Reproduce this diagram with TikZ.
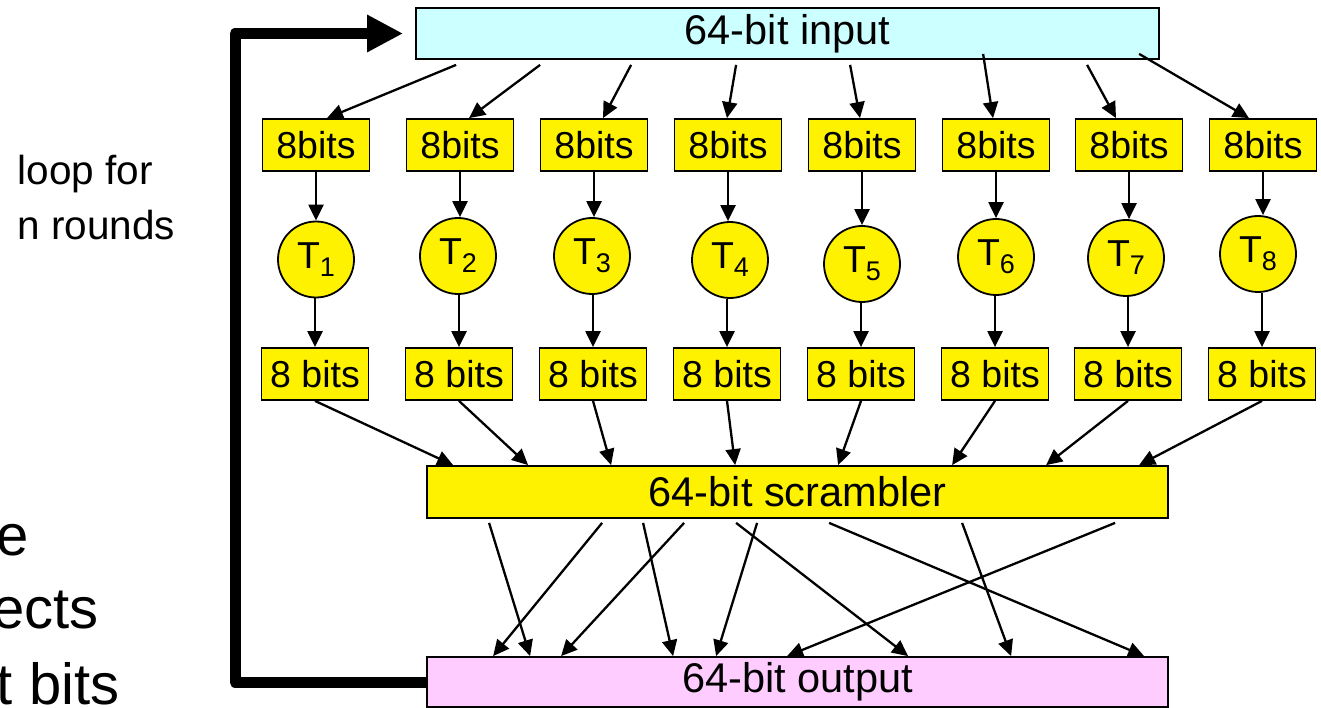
\documentclass[tikz,border=0pt]{standalone}
\usepackage{fontspec}
\setmainfont{Liberation Sans}
\usetikzlibrary{arrows.meta}
\definecolor{inblue}{HTML}{CCFFFF}
\definecolor{outpink}{HTML}{FFCCFF}
\tikzset{
  bitbox/.style={draw, line width=1.8pt, fill=yellow, inner sep=0pt, minimum width=107pt, minimum height=52pt, font=\fontsize{37.5}{44}\selectfont},
  widebox/.style={draw, line width=1.8pt, inner sep=0pt, minimum width=741pt, minimum height=51pt, font=\fontsize{41.5}{49}\selectfont},
  tbox/.style={draw, circle, line width=1.8pt, fill=yellow, inner sep=0pt, minimum size=76pt, font=\fontsize{37.5}{44}\selectfont},
  arr/.style={line width=2.3pt, -{Triangle[length=16pt,width=15pt]}},
}
\newcommand{\tsub}[1]{T\raisebox{-8pt}{\fontsize{27}{30}\selectfont #1}}
\begin{document}
\begin{tikzpicture}[x=1pt,y=-1pt]
\useasboundingbox (0,0) rectangle (1321,708);

% left side text
\node[anchor=base east, font=\fontsize{58}{70}\selectfont] (txta) at (32,555) {e};
\node[anchor=base east, font=\fontsize{58}{70}\selectfont] (txtb) at (102,628) {ects};
\node[anchor=base east, font=\fontsize{58}{70}\selectfont] (txtc) at (123,704) {t bits};
\node[anchor=base west, font=\fontsize{40.5}{47}\selectfont] (loopa) at (14,185) {loop for};
\node[anchor=base west, font=\fontsize{40.5}{47}\selectfont] (loopb) at (14,240) {n rounds};

% the three wide boxes
\node[widebox, fill=inblue, minimum width=743pt] (inp) at (787.5,33.5) {64-bit input};
\node[widebox, fill=yellow, minimum height=52pt] (scr) at (797.5,492) {64-bit scrambler};
\node[widebox, fill=outpink, minimum height=50pt] (out) at (797.5,682) {64-bit output};

% 8bits in
\node[bitbox] (b1) at (316,145) {8bits};
\node[bitbox] (b2) at (460,145) {8bits};
\node[bitbox] (b3) at (594,145) {8bits};
\node[bitbox] (b4) at (728,145) {8bits};
\node[bitbox] (b5) at (862,145) {8bits};
\node[bitbox] (b6) at (996,145) {8bits};
\node[bitbox] (b7) at (1129,145) {8bits};
\node[bitbox] (b8) at (1263,145) {8bits};

% tables
\node[tbox] (t1) at (316,259.5) {\tsub{1}};
\node[tbox] (t2) at (458,256) {\tsub{2}};
\node[tbox] (t3) at (592,256) {\tsub{3}};
\node[tbox] (t4) at (730,260) {\tsub{4}};
\node[tbox] (t5) at (862,264) {\tsub{5}};
\node[tbox] (t6) at (996,257) {\tsub{6}};
\node[tbox] (t7) at (1126,258) {\tsub{7}};
\node[tbox] (t8) at (1258,254) {\tsub{8}};

% 8 bits out
\node[bitbox] (c1) at (315,374) {8 bits};
\node[bitbox] (c2) at (459,374) {8 bits};
\node[bitbox] (c3) at (593,374) {8 bits};
\node[bitbox] (c4) at (727,374) {8 bits};
\node[bitbox] (c5) at (861,374) {8 bits};
\node[bitbox] (c6) at (995,374) {8 bits};
\node[bitbox] (c7) at (1128,374) {8 bits};
\node[bitbox] (c8) at (1262,374) {8 bits};

% loop back
\coordinate (corner) at (235,682);
\draw[line width=11pt, line join=round, -{Triangle[length=36pt,width=35pt]}] (out.west) -- (corner) |- ([xshift=-12pt]inp.west);

% input -> 8bits
\draw[arr] ([xshift=41pt,yshift=-5pt]inp.south west) -- ([xshift=11pt]b1.north);
\draw[arr] ([xshift=125pt,yshift=-5pt]inp.south west) -- ([xshift=9pt]b2.north);
\draw[arr] ([xshift=216pt,yshift=-5pt]inp.south west) -- ([xshift=9pt]b3.north);
\draw[arr] ([xshift=321pt,yshift=-5pt]inp.south west) -- ([xshift=-1pt]b4.north);
\draw[arr] ([xshift=435pt,yshift=-5pt]inp.south west) -- ([xshift=-2pt]b5.north);
\draw[arr] ([xshift=568pt,yshift=6pt]inp.south west) -- ([xshift=-3pt]b6.north);
\draw[arr] ([xshift=672pt,yshift=-5pt]inp.south west) -- ([xshift=-13pt]b7.north);
\draw[arr] ([xshift=724pt,yshift=6pt]inp.south west) -- ([xshift=-14pt]b8.north);

% 8bits -> T
\draw[arr] (b1.south) -- (b1.south |- t1.north);
\draw[arr] (b2.south) -- (b2.south |- t2.north);
\draw[arr] (b3.south) -- (b3.south |- t3.north);
\draw[arr] (b4.south) -- (b4.south |- t4.north);
\draw[arr] (b5.south) -- (b5.south |- t5.north);
\draw[arr] (b6.south) -- (b6.south |- t6.north);
\draw[arr] (b7.south) -- (b7.south |- t7.north);
\draw[arr] (b8.south) -- (b8.south |- t8.north);

% T -> 8 bits
\draw[arr] (c1.north |- t1.south) -- (c1.north);
\draw[arr] (c2.north |- t2.south) -- (c2.north);
\draw[arr] (c3.north |- t3.south) -- (c3.north);
\draw[arr] (c4.north |- t4.south) -- (c4.north);
\draw[arr] (c5.north |- t5.south) -- (c5.north);
\draw[arr] (c6.north |- t6.south) -- (c6.north);
\draw[arr] (c7.north |- t7.south) -- (c7.north);
\draw[arr] (c8.north |- t8.south) -- (c8.north);

% 8 bits -> scrambler
\draw[arr] (c1.south) -- ([xshift=27pt]scr.north west);
\draw[arr] (c2.south) -- ([xshift=102pt]scr.north west);
\draw[arr] (c3.south) -- ([xshift=185pt]scr.north west);
\draw[arr] (c4.south) -- ([xshift=309pt]scr.north west);
\draw[arr] (c5.south) -- ([xshift=412pt]scr.north west);
\draw[arr] (c6.south) -- ([xshift=526pt]scr.north west);
\draw[arr] (c7.south) -- ([xshift=620pt]scr.north west);
\draw[arr] (c8.south) -- ([xshift=713pt]scr.north west);

% scrambler -> output
\draw[arr] ([xshift=63pt,yshift=-4pt]scr.south west) -- ([xshift=104pt]out.north west);
\draw[arr] ([xshift=176pt,yshift=-4pt]scr.south west) -- ([xshift=67pt]out.north west);
\draw[arr] ([xshift=217pt,yshift=-4pt]scr.south west) -- ([xshift=247pt]out.north west);
\draw[arr] ([xshift=258pt,yshift=-4pt]scr.south west) -- ([xshift=135pt]out.north west);
\draw[arr] ([xshift=310pt,yshift=-4pt]scr.south west) -- ([xshift=482pt]out.north west);
\draw[arr] ([xshift=331pt,yshift=-4pt]scr.south west) -- ([xshift=290pt]out.north west);
\draw[arr] ([xshift=403pt,yshift=-4pt]scr.south west) -- ([xshift=718pt]out.north west);
\draw[arr] ([xshift=536pt,yshift=-4pt]scr.south west) -- ([xshift=585pt]out.north west);
\draw[arr] ([xshift=689pt,yshift=-4pt]scr.south west) -- ([xshift=361pt]out.north west);
\end{tikzpicture}
\end{document}
